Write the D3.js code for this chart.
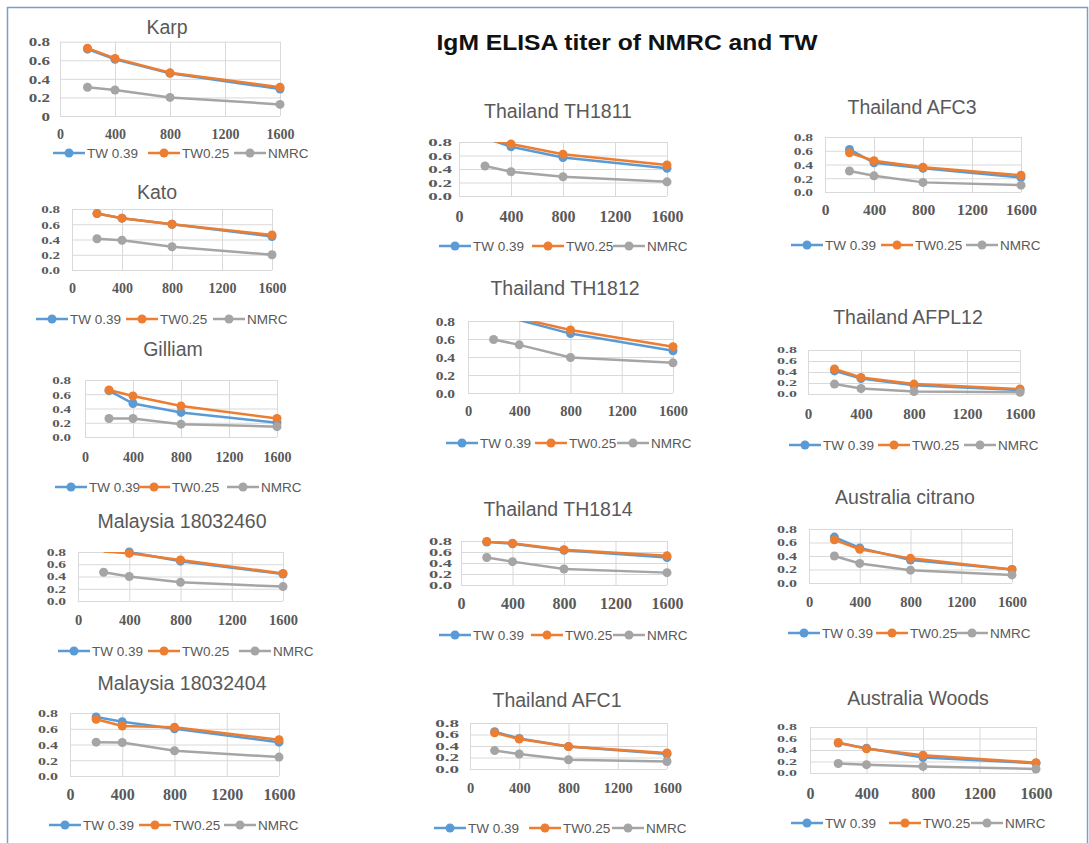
<!DOCTYPE html>
<html>
<head>
<meta charset="utf-8">
<script src="https://cdn.jsdelivr.net/npm/d3@7"></script>
<style>
  body { margin: 0; background: #fff; }
  svg { display: block; }
</style>
</head>
<body>
<div id="canvas"></div>
<script>
/**
 * Data
 */
const doses = [200, 400, 800, 1600];
const xTicks = [0, 400, 800, 1200, 1600];
const yTicks = [0, 0.2, 0.4, 0.6, 0.8];
const seriesNames = ["TW 0.39", "TW0.25", "NMRC"];
const seriesColors = ["#5b9bd5", "#ed7d31", "#a5a5a5"];

const chartTitles = [
    "Karp", "Kato", "Gilliam", "Malaysia 18032460", "Malaysia 18032404",
    "Thailand TH1811", "Thailand TH1812", "Thailand TH1814", "Thailand AFC1",
    "Thailand AFC3", "Thailand AFPL12", "Australia citrano", "Australia Woods"
];

// one row per chart, values at 200, 400, 800, 1600
const tw039 = [
    [0.72, 0.61, 0.46, 0.29],
    [0.74, 0.68, 0.60, 0.44],
    [0.65, 0.47, 0.345, 0.20],
    [0.83, 0.80, 0.65, 0.44],
    [0.75, 0.69, 0.60, 0.43],
    [0.86, 0.73, 0.57, 0.41],
    [0.92, 0.81, 0.66, 0.47],
    [0.78, 0.75, 0.63, 0.50],
    [0.65, 0.53, 0.39, 0.26],
    [0.62, 0.425, 0.345, 0.21],
    [0.42, 0.28, 0.16, 0.07],
    [0.68, 0.52, 0.34, 0.20],
    [0.52, 0.43, 0.27, 0.17]
];
const tw025 = [
    [0.73, 0.62, 0.465, 0.31],
    [0.74, 0.68, 0.60, 0.46],
    [0.66, 0.575, 0.435, 0.26],
    [0.81, 0.78, 0.67, 0.45],
    [0.72, 0.635, 0.62, 0.46],
    [0.84, 0.77, 0.62, 0.46],
    [0.95, 0.83, 0.70, 0.515],
    [0.79, 0.76, 0.64, 0.53],
    [0.63, 0.52, 0.39, 0.28],
    [0.57, 0.455, 0.36, 0.245],
    [0.455, 0.30, 0.18, 0.09],
    [0.64, 0.50, 0.365, 0.20],
    [0.53, 0.42, 0.31, 0.18]
];
const nmrc = [
    [0.31, 0.28, 0.20, 0.125],
    [0.41, 0.39, 0.305, 0.20],
    [0.26, 0.26, 0.18, 0.145],
    [0.47, 0.40, 0.305, 0.235],
    [0.43, 0.425, 0.32, 0.24],
    [0.445, 0.36, 0.285, 0.21],
    [0.595, 0.535, 0.395, 0.335],
    [0.50, 0.425, 0.29, 0.225],
    [0.32, 0.26, 0.16, 0.13],
    [0.305, 0.235, 0.14, 0.10],
    [0.18, 0.10, 0.045, 0.03],
    [0.40, 0.29, 0.19, 0.12],
    [0.165, 0.145, 0.115, 0.07]
];

/**
 * Layout of the pasted charts (pixel geometry only)
 * px: [x of 0, x of 1600], py: [y of 0.8, y of 0], t: title centre,
 * xl: x label y, yl: y label right edge, lg: legend y + text starts,
 * xs: x label font size, ys: [y label font size, vertical squash]
 */
const layout = [
    {px: [60, 280],  py: [41.7, 116], t: [167, 27],  xl: 134, yl: 50,  lg: [153, 87, 182, 268], xs: 14, ys: [17, 0.7], zero: "0"},
    {px: [72, 272],  py: [209, 270],  t: [157, 192], xl: 288, yl: 60,  lg: [319, 70, 160, 247], xs: 14, ys: [15, 0.72]},
    {px: [85, 277],  py: [380, 437],  t: [173, 349], xl: 457, yl: 71,  lg: [487, 89, 172, 261], xs: 14, ys: [15, 0.72]},
    {px: [78, 283],  py: [552, 601],  t: [182, 521], xl: 620, yl: 66,  lg: [651, 92, 182, 273], xs: 14.5, ys: [15.5, 0.6]},
    {px: [70, 279],  py: [713, 776],  t: [182, 683], xl: 794, yl: 58,  lg: [825, 83, 173, 258], xs: 16, ys: [16, 0.7]},
    {px: [459, 667], py: [142, 196],  t: [558, 111], xl: 216, yl: 452, lg: [246, 473, 566, 647], xs: 16, ys: [19, 0.6]},
    {px: [468, 673], py: [321, 393],  t: [565, 288], xl: 411, yl: 455, lg: [443, 480, 569, 651], xs: 14.5, ys: [15.5, 0.8]},
    {px: [461, 667], py: [541, 585],  t: [558, 509], xl: 603, yl: 452, lg: [635, 473, 565, 647], xs: 16, ys: [18.5, 0.55]},
    {px: [470, 667], py: [723, 769],  t: [557, 700], xl: 788, yl: 459, lg: [828, 468, 563, 646], xs: 14.5, ys: [19, 0.52]},
    {px: [825, 1021], py: [137, 192], t: [912, 107], xl: 210, yl: 813, lg: [245, 825, 915, 1000], xs: 15.5, ys: [15.5, 0.72]},
    {px: [808, 1020], py: [350, 394], t: [908, 317], xl: 414, yl: 797, lg: [445, 823, 912, 998], xs: 15, ys: [16, 0.5]},
    {px: [809, 1012], py: [529, 583], t: [905, 497], xl: 602, yl: 797, lg: [633, 822, 910, 990], xs: 14.5, ys: [16, 0.6]},
    {px: [810, 1036], py: [727, 773], t: [918, 698], xl: 793, yl: 797, lg: [823, 825, 923, 1005], xs: 16, ys: [16, 0.5]}
];

const W = 1089, H = 843;
const sans = "'Liberation Sans Narrow', 'Liberation Sans', Arial, sans-serif";
const serif = "'Liberation Serif', 'DejaVu Serif', serif";

const svg = d3.select("#canvas")
    .append("svg")
    .attr("width", W)
    .attr("height", H);

svg.append("rect")
    .attr("width", W).attr("height", H)
    .attr("fill", "#fff");

// frame around the pasted charts
svg.append("rect")
    .attr("x", 7.5).attr("y", 7.5)
    .attr("width", 1080).attr("height", 860)
    .attr("fill", "none")
    .attr("stroke", "#7e9ccb")
    .attr("stroke-width", 1.5);

svg.append("text")
    .attr("x", 627).attr("y", 42)
    .attr("text-anchor", "middle")
    .attr("dominant-baseline", "central")
    .attr("font-family", "'Liberation Sans', Arial, sans-serif")
    .attr("font-weight", "bold")
    .attr("font-size", 22)
    .attr("textLength", 381)
    .attr("lengthAdjust", "spacingAndGlyphs")
    .attr("fill", "#111")
    .text("IgM ELISA titer of NMRC and TW");

function drawChart(i) {
    const L = layout[i];
    const series = [tw039[i], tw025[i], nmrc[i]];
    const g = svg.append("g").attr("class", "chart");

    const x = d3.scaleLinear().domain([0, 1600]).range(L.px);
    const y = d3.scaleLinear().domain([0, 0.8]).range([L.py[1], L.py[0]]);

    // gridlines
    g.append("g")
        .attr("transform", "translate(0," + L.py[1] + ")")
        .call(d3.axisBottom(x).tickValues(xTicks).tickSize(-(L.py[1] - L.py[0])).tickFormat(""))
        .call(a => a.select(".domain").remove())
        .call(a => a.selectAll("line").attr("stroke", "#d9d9d9").attr("stroke-width", 1));
    g.append("g")
        .attr("transform", "translate(" + L.px[0] + ",0)")
        .call(d3.axisLeft(y).tickValues(yTicks).tickSize(-(L.px[1] - L.px[0])).tickFormat(""))
        .call(a => a.select(".domain").remove())
        .call(a => a.selectAll("line").attr("stroke", "#d9d9d9").attr("stroke-width", 1));

    // tick labels
    g.append("g")
        .attr("transform", "translate(0," + L.xl + ")")
        .call(d3.axisBottom(x).tickValues(xTicks).tickSize(0).tickPadding(0).tickFormat(d3.format("d")))
        .call(a => a.select(".domain").remove())
        .call(a => a.selectAll("text")
            .attr("y", 0)
            .attr("dy", "0.35em")
            .attr("font-family", serif)
            .attr("font-weight", "bold")
            .attr("font-size", L.xs)
            .attr("fill", "#595959"));
    // the pasted charts were squeezed vertically, so the y labels are too
    g.append("g")
        .attr("transform", "translate(" + L.yl + ",0)")
        .call(d3.axisLeft(y).tickValues(yTicks).tickSize(0).tickPadding(0)
            .tickFormat(d => (d === 0 && L.zero) ? L.zero : d3.format(".1f")(d)))
        .call(a => a.select(".domain").remove())
        .call(a => a.selectAll("text")
            .attr("x", 0)
            .attr("dy", "0.35em")
            .attr("transform", "scale(1," + L.ys[1] + ")")
            .attr("font-family", serif)
            .attr("font-weight", "bold")
            .attr("font-size", L.ys[0])
            .attr("fill", "#595959"));

    // title
    g.append("text")
        .attr("x", L.t[0]).attr("y", L.t[1])
        .attr("text-anchor", "middle")
        .attr("dominant-baseline", "central")
        .attr("font-family", "'Liberation Sans', Arial, sans-serif")
        .attr("font-size", 19.5)
        .attr("fill", "#595959")
        .text(chartTitles[i]);

    // series
    const clipId = "clip" + i;
    g.append("clipPath").attr("id", clipId)
        .append("rect")
        .attr("x", L.px[0]).attr("y", L.py[0])
        .attr("width", L.px[1] - L.px[0] + 8)
        .attr("height", L.py[1] - L.py[0] + 6);

    const line = d3.line()
        .x((d, k) => x(doses[k]))
        .y(d => y(d));

    series.forEach((vals, s) => {
        const sg = g.append("g").attr("clip-path", "url(#" + clipId + ")");
        sg.append("path")
            .datum(vals)
            .attr("fill", "none")
            .attr("stroke", seriesColors[s])
            .attr("stroke-width", 2.5)
            .attr("d", line);
        g.selectAll(null)
            .data(vals.map((v, k) => ({v: v, dose: doses[k]})).filter(d => d.v <= 0.8))
            .enter()
            .append("circle")
            .attr("cx", d => x(d.dose))
            .attr("cy", d => y(d.v))
            .attr("r", 4.5)
            .attr("fill", seriesColors[s]);
    });

    // legend
    const ly = L.lg[0];
    seriesNames.forEach((name, s) => {
        const tx = L.lg[s + 1];
        g.append("line")
            .attr("x1", tx - 34).attr("x2", tx - 2)
            .attr("y1", ly).attr("y2", ly)
            .attr("stroke", seriesColors[s])
            .attr("stroke-width", 2.5);
        g.append("circle")
            .attr("cx", tx - 18).attr("cy", ly)
            .attr("r", 4.5)
            .attr("fill", seriesColors[s]);
        g.append("text")
            .attr("x", tx).attr("y", ly)
            .attr("dominant-baseline", "central")
            .attr("font-family", sans)
            .attr("font-size", 13.5)
            .attr("fill", "#595959")
            .text(name);
    });
}

chartTitles.forEach((t, i) => drawChart(i));
</script>
</body>
</html>
